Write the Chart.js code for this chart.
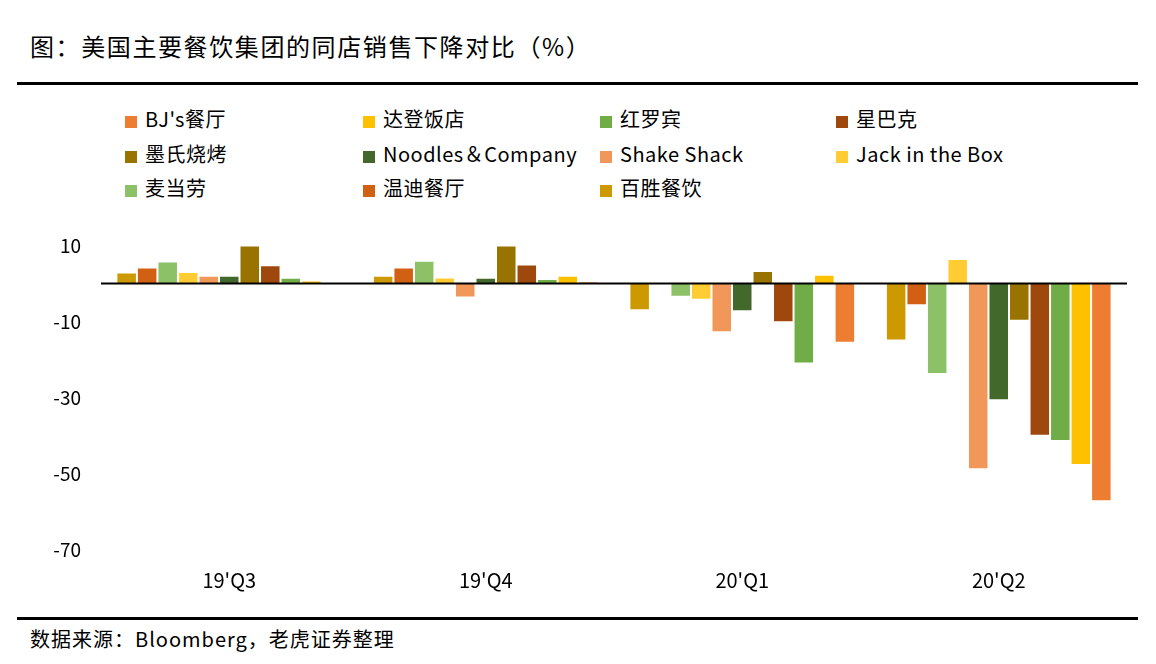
<!DOCTYPE html>
<html>
<head>
<meta charset="utf-8">
<script src="https://cdn.jsdelivr.net/npm/chart.js@4"></script>
<style>
  body { margin:0; width:1156px; height:664px; background:#fff; position:relative; overflow:hidden;
         font-family:"Noto Sans CJK SC","Noto Sans",sans-serif; color:#000; }
  #title { position:absolute; left:30px; top:29px; font-size:24px; letter-spacing:1.6px; line-height:34px; white-space:nowrap; }
  .rule { position:absolute; left:17px; width:1121px; background:#000; }
  #legend { position:absolute; left:0; top:104px; width:1156px; }
  .item { position:absolute; font-size:20px; letter-spacing:0.5px; line-height:30px; white-space:nowrap; }
  .item span { display:inline-block; width:12px; height:12px; margin-right:8px; vertical-align:-1px; }
  #box { position:absolute; left:0; top:214px; width:1156px; height:404px; }
  #source { position:absolute; left:30px; top:624px; font-size:20px; letter-spacing:1px; line-height:30px; white-space:nowrap; }
</style>
</head>
<body>
<div id="title">图：美国主要餐饮集团的同店销售下降对比（%）</div>
<div class="rule" style="top:82px;height:3px"></div>
<div id="legend"></div>
<div id="box"><canvas id="chart"></canvas></div>
<div class="rule" style="top:617px;height:3px"></div>
<div id="source">数据来源：Bloomberg，老虎证券整理</div>
<script>
var quarters = ["19'Q3", "19'Q4", "20'Q1", "20'Q2"];

// legend order
var names = ["BJ's餐厅", "达登饭店", "红罗宾", "星巴克", "墨氏烧烤", "Noodles＆Company",
             "Shake Shack", "Jack in the Box", "麦当劳", "温迪餐厅", "百胜餐饮"];
var colors = ["#ED7D31", "#FFC000", "#70AD47", "#9E480E", "#997300", "#43682B",
              "#F1975A", "#FFCD33", "#8CC168", "#D26012", "#CC9900"];

var bjs       = [0, 0.5, -15.6, -57.2];
var darden    = [0.8, 2, 2.3, -47.7];
var redRobin  = [1.5, 1.2, -21, -41.4];
var starbucks = [4.8, 5, -10.2, -40];
var chipotle  = [10, 10, 3.3, -9.8];
var noodles   = [2, 1.5, -7.3, -30.7];
var shake     = [2, -3.7, -12.8, -48.8];
var jack      = [3, 1.6, -4.3, 6.4];
var mcd       = [5.8, 6, -3.5, -23.8];
var wendys    = [4.2, 4.2, 0, -5.7];
var yum       = [2.9, 2, -7, -15];

var seriesData = [bjs, darden, redRobin, starbucks, chipotle, noodles, shake, jack, mcd, wendys, yum];

// HTML legend, 4 columns
var colX = [125, 363, 600, 836];
var rowY = [0, 35, 69];
var lg = document.getElementById('legend');
names.forEach(function(n, i){
  var d = document.createElement('div');
  d.className = 'item';
  d.style.left = colX[i % 4] + 'px';
  d.style.top = rowY[Math.floor(i / 4)] + 'px';
  d.innerHTML = '<span style="background:' + colors[i] + '"></span>' + n;
  lg.appendChild(d);
});

// bars drawn in reverse legend order (百胜 first)
var datasets = [];
for (var i = names.length - 1; i >= 0; i--) {
  datasets.push({
    label: names[i],
    data: seriesData[i],
    backgroundColor: colors[i],
    borderColor: 'rgba(255,255,255,0.6)',
    borderWidth: 1,
    barPercentage: 1,
    categoryPercentage: 0.88
  });
}

var zeroLine = {
  id: 'zeroLine',
  afterDatasetsDraw: function(chart){
    var y = chart.scales.y.getPixelForValue(0);
    var ctx = chart.ctx;
    ctx.save();
    ctx.strokeStyle = '#000';
    ctx.lineWidth = 2;
    ctx.beginPath();
    ctx.moveTo(chart.chartArea.left, y);
    ctx.lineTo(chart.chartArea.right, y);
    ctx.stroke();
    ctx.restore();
  }
};

new Chart(document.getElementById('chart'), {
  type: 'bar',
  data: { labels: quarters, datasets: datasets },
  plugins: [zeroLine],
  options: {
    responsive: true,
    maintainAspectRatio: false,
    animation: false,
    layout: { padding: { top: 13, right: 29, bottom: 8, left: 0 } },
    plugins: { legend: { display: false }, tooltip: { enabled: false } },
    scales: {
      x: {
        grid: { display: false, drawTicks: false },
        border: { display: false },
        ticks: { padding: 18, color: '#000', font: { size: 20, family: '"Noto Sans CJK SC"' } }
      },
      y: {
        min: -70, max: 10,
        ticks: { stepSize: 20, padding: 20, color: '#000', font: { size: 19, family: '"Noto Sans CJK SC"' } },
        grid: { display: false, drawTicks: false },
        border: { display: false },
        afterFit: function(s){ s.width = 101; }
      }
    }
  }
});
</script>
</body>
</html>
